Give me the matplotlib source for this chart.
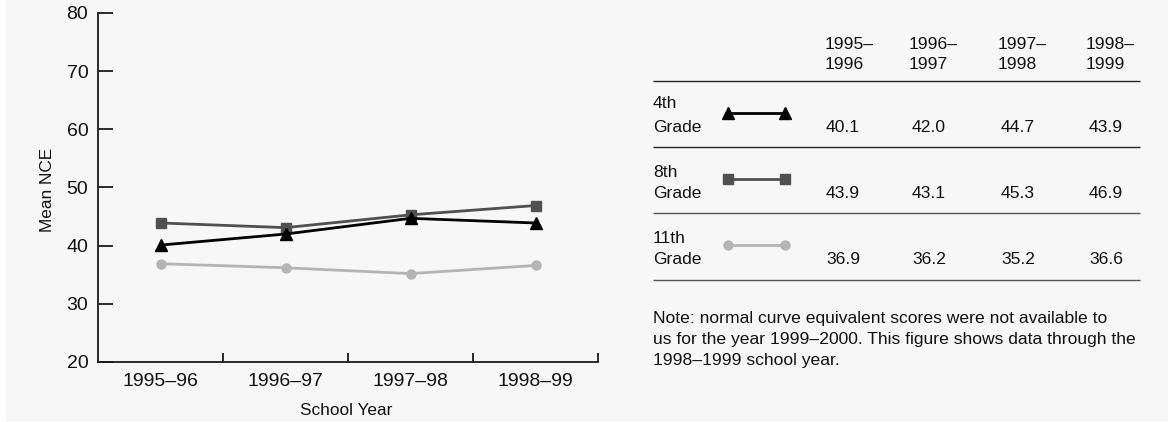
import matplotlib
matplotlib.use("Agg")
import matplotlib.pyplot as plt
from matplotlib.patches import Rectangle
from matplotlib.lines import Line2D

plt.rcParams['font.family'] = ['Liberation Sans', 'DejaVu Sans']

# ---------------- data ----------------
school_years = ["1995\u201396", "1996\u201397", "1997\u201398", "1998\u201399"]
table_years_top = ["1995\u2013", "1996\u2013", "1997\u2013", "1998\u2013"]
table_years_bottom = ["1996", "1997", "1998", "1999"]
grade_top = ["4th", "8th", "11th"]
grade_bottom = ["Grade", "Grade", "Grade"]
grade4 = [40.1, 42.0, 44.7, 43.9]
grade8 = [43.9, 43.1, 45.3, 46.9]
grade11 = [36.9, 36.2, 35.2, 36.6]
y_ticks = [20, 30, 40, 50, 60, 70, 80]
note_lines = [
    "Note: normal curve equivalent scores were not available to",
    "us for the year 1999\u20132000. This figure shows data through the",
    "1998\u20131999 school year.",
]

W, H = 1168, 422
fig = plt.figure(figsize=(W / 100, H / 100), dpi=100)
fig.patch.set_facecolor("white")
BG = "#f7f7f7"
fig.patches.append(Rectangle((6 / W, 1 / H), 1 - 6 / W, 1 - 1 / H,
                             transform=fig.transFigure, facecolor=BG,
                             edgecolor="none", zorder=-10))

series = [
    (grade4, dict(color="black", marker="^", ms=8, mew=1, lw=2)),
    (grade8, dict(color="#505050", marker="s", ms=6.5, mew=1, lw=2)),
    (grade11, dict(color="#b4b4b4", marker="o", ms=7.5, mew=0, lw=2)),
]

# ---------------- chart ----------------
ax = fig.add_axes([98 / W, 1 - 362 / H, 500 / W, 349 / H])
ax.set_facecolor("none")
x = list(range(len(school_years)))
for vals, st in reversed(series):
    ax.plot(x, vals, **st)

ax.set_xlim(-0.5, len(school_years) - 0.5)
ax.set_ylim(20, 80)
ax.set_yticks(y_ticks)
ax.set_xticks(x)
ax.set_xticklabels(school_years)
ax.set_xticks([i + 0.5 for i in x], minor=True)
for s in ["top", "right"]:
    ax.spines[s].set_visible(False)
for s in ["left", "bottom"]:
    ax.spines[s].set_linewidth(1.3)
    ax.spines[s].set_color("#1a1a1a")
ax.tick_params(axis="y", direction="in", length=10.8, width=1.3,
               color="#1a1a1a", labelsize=14, pad=7, labelcolor="#111111")
ax.tick_params(axis="x", which="major", length=0, labelsize=14, pad=8,
               labelcolor="#111111")
ax.tick_params(axis="x", which="minor", direction="in", length=6.5,
               width=1.3, color="#1a1a1a")

fig.text(48 / W, 1 - 190 / H, "Mean NCE", rotation=90, ha="center",
         va="center", fontsize=12.4, color="#111111")
fig.text(346 / W, 1 - 415 / H, "School Year", ha="center", va="baseline",
         fontsize=12.4, color="#111111")

# ---------------- table (pixel overlay) ----------------
ov = fig.add_axes([0, 0, 1, 1])
ov.set_xlim(0, W)
ov.set_ylim(H, 0)
ov.axis("off")
ov.patch.set_alpha(0)

FS = 12.6
TC = "#111111"
head_x = [825, 909, 998, 1086]
val_x = [843, 929, 1018, 1106]
for hx, t1, t2 in zip(head_x, table_years_top, table_years_bottom):
    ov.text(hx, 48.8, t1, ha="left", va="baseline", fontsize=FS, color=TC)
    ov.text(hx, 69.4, t2, ha="left", va="baseline", fontsize=FS, color=TC)

rule_y = [81, 147.3, 213.3, 280]
rule_c = ["#222222", "#222222", "#555555", "#555555"]
for ry, rc in zip(rule_y, rule_c):
    ov.plot([653, 1140], [ry, ry], color=rc, lw=1.0, solid_capstyle="butt")

row_top_y = [107.8, 176.8, 242.8]
row_val_y = [131.8, 197.8, 264.4]
glyph_y = [113.3, 179, 245]
for i, (vals, st) in enumerate(series):
    ov.text(653, row_top_y[i], grade_top[i], ha="left", va="baseline",
            fontsize=FS, color=TC)
    ov.text(653, row_val_y[i], grade_bottom[i], ha="left", va="baseline",
            fontsize=FS, color=TC)
    ov.add_line(Line2D([728, 785], [glyph_y[i], glyph_y[i]], **st))
    for vx, v in zip(val_x, vals):
        ov.text(vx, row_val_y[i], f"{v:.1f}", ha="center", va="baseline",
                fontsize=FS, color=TC)

for k, line in enumerate(note_lines):
    ov.text(653, [322.7, 344.3, 365.3][k], line, ha="left", va="baseline",
            fontsize=FS, color=TC)

fig.savefig("out.png", dpi=100, facecolor=fig.get_facecolor())
